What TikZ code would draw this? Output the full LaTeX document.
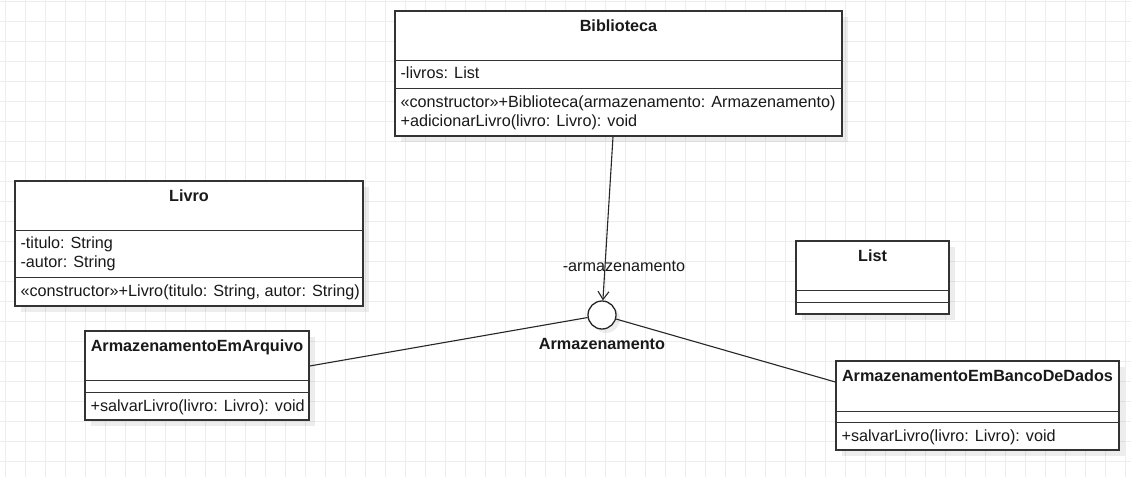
\documentclass[tikz,border=0pt]{standalone}
\usepackage{fontspec}
\setmainfont{Liberation Sans}
\usepackage{tikz}
\usetikzlibrary{arrows.meta,shadows,positioning}

\begin{document}
\begin{tikzpicture}[x=1pt, y=-1pt, >={Straight Barb[length=8pt,width=11pt]},
    every node/.style={font=\fontsize{16.2}{19}\selectfont, text=black!90},
    classbox/.style={draw=black!80, line width=1.3pt, fill=white, inner sep=0pt,
        drop shadow={shadow xshift=6pt, shadow yshift=-6pt, fill=black, opacity=0.07}},
    iface/.style={circle, draw=black!85, line width=1.3pt, fill=white, inner sep=0pt, minimum size=28pt,
        drop shadow={shadow xshift=4pt, shadow yshift=-4pt, fill=black, opacity=0.07}},
    classname/.style={font=\fontsize{16.2}{19}\selectfont\bfseries, anchor=base, inner sep=0pt},
    member/.style={anchor=base west, inner sep=0pt},
    divider/.style={draw=black!80, line width=1.1pt},
    link/.style={draw=black!85, line width=1.1pt},
    gridline/.style={draw=black!7, line width=0.8pt}]

    % canvas
    \useasboundingbox (0,0) rectangle (1131,477);
    \fill[white] (0,0) rectangle (1131,477);
    \draw[gridline, step=20pt, shift={(5pt,-1.5pt)}] (-5,-1.5) grid (1126,475.5);

    % Biblioteca
    \node[classbox, minimum width=447pt, minimum height=125pt] (Biblioteca) at (618.5,73.5) {};
    \node[classname] (BibliotecaName) at ([yshift=-21.5pt]Biblioteca.north) {Biblioteca};
    \draw[divider] ([yshift=-50pt]Biblioteca.north west) -- ([yshift=-50pt]Biblioteca.north east);
    \draw[divider] ([yshift=-78pt]Biblioteca.north west) -- ([yshift=-78pt]Biblioteca.north east);
    \node[member] (livros) at ([xshift=6pt, yshift=-68.5pt]Biblioteca.north west) {-livros: List};
    \node[member] (BibliotecaCtor) at ([xshift=6pt, yshift=-97pt]Biblioteca.north west) {«constructor»+Biblioteca(armazenamento: Armazenamento)};
    \node[member] (adicionarLivro) at ([xshift=6pt, yshift=-116pt]Biblioteca.north west) {+adicionarLivro(livro: Livro): void};

    % Livro
    \node[classbox, minimum width=348pt, minimum height=125pt] (Livro) at (189,243.5) {};
    \node[classname] (LivroName) at ([yshift=-21.5pt]Livro.north) {Livro};
    \draw[divider] ([yshift=-50pt]Livro.north west) -- ([yshift=-50pt]Livro.north east);
    \draw[divider] ([yshift=-97pt]Livro.north west) -- ([yshift=-97pt]Livro.north east);
    \node[member] (titulo) at ([xshift=6pt, yshift=-68.5pt]Livro.north west) {-titulo: String};
    \node[member] (autor) at ([xshift=6pt, yshift=-87.5pt]Livro.north west) {-autor: String};
    \node[member] (LivroCtor) at ([xshift=6pt, yshift=-116pt]Livro.north west) {«constructor»+Livro(titulo: String, autor: String)};

    % List
    \node[classbox, minimum width=153pt, minimum height=73pt] (List) at (872.5,277.5) {};
    \node[classname] (ListName) at ([yshift=-21.5pt]List.north) {List};
    \draw[divider] ([yshift=-50pt]List.north west) -- ([yshift=-50pt]List.north east);
    \draw[divider] ([yshift=-62pt]List.north west) -- ([yshift=-62pt]List.north east);

    % ArmazenamentoEmArquivo
    \node[classbox, minimum width=224pt, minimum height=89pt] (ArmazenamentoEmArquivo) at (197,375.5) {};
    \node[classname] (ArquivoName) at ([yshift=-21.5pt]ArmazenamentoEmArquivo.north) {ArmazenamentoEmArquivo};
    \draw[divider] ([yshift=-50pt]ArmazenamentoEmArquivo.north west) -- ([yshift=-50pt]ArmazenamentoEmArquivo.north east);
    \draw[divider] ([yshift=-62pt]ArmazenamentoEmArquivo.north west) -- ([yshift=-62pt]ArmazenamentoEmArquivo.north east);
    \node[member] (ArquivoSalvar) at ([xshift=6pt, yshift=-81pt]ArmazenamentoEmArquivo.north west) {+salvarLivro(livro: Livro): void};

    % ArmazenamentoEmBancoDeDados
    \node[classbox, minimum width=283pt, minimum height=89pt] (ArmazenamentoEmBancoDeDados) at (977.5,405.5) {};
    \node[classname] (BancoName) at ([yshift=-21.5pt]ArmazenamentoEmBancoDeDados.north) {ArmazenamentoEmBancoDeDados};
    \draw[divider] ([yshift=-51pt]ArmazenamentoEmBancoDeDados.north west) -- ([yshift=-51pt]ArmazenamentoEmBancoDeDados.north east);
    \draw[divider] ([yshift=-62pt]ArmazenamentoEmBancoDeDados.north west) -- ([yshift=-62pt]ArmazenamentoEmBancoDeDados.north east);
    \node[member] (BancoSalvar) at ([xshift=6pt, yshift=-81pt]ArmazenamentoEmBancoDeDados.north west) {+salvarLivro(livro: Livro): void};

    % interface Armazenamento
    \node[iface] (Armazenamento) at (602,315) {};
    \node[classname] (ArmazenamentoName) at (602,349.5) {Armazenamento};

    % connectors
    \draw[link, ->] ([xshift=-5.5pt]Biblioteca.south) -- (Armazenamento);
    \node[anchor=base, inner sep=0pt] (armazenamentoRole) at (624,271.5) {-armazenamento};
    \draw[link] (Armazenamento) -- ([yshift=9.5pt]ArmazenamentoEmArquivo.east);
    \draw[link] (Armazenamento) -- ([yshift=23.5pt]ArmazenamentoEmBancoDeDados.west);
\end{tikzpicture}
\end{document}
